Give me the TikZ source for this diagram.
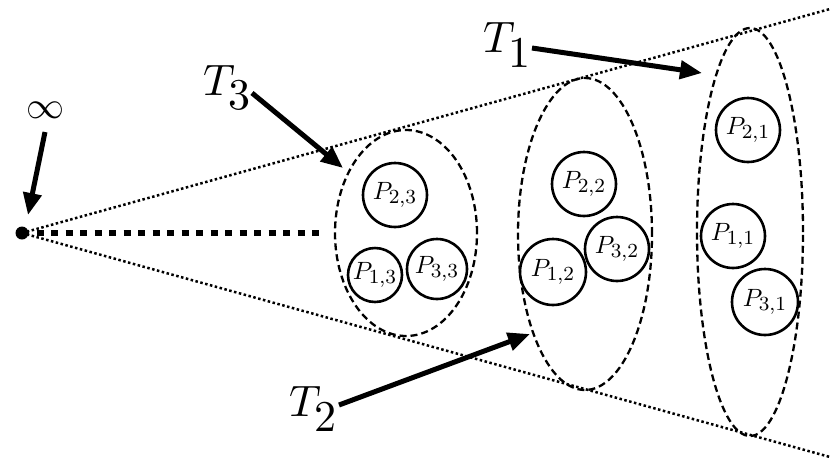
\documentclass[tikz,border=0pt]{standalone}
\usetikzlibrary{arrows.meta,shapes.geometric}
\newcommand{\pl}[2]{\scalebox{2.5}{$P_{\mbox{\footnotesize #1,#2}}$}}
\newcommand{\bl}[1]{\scalebox{4.4}{$T_{\mbox{\normalsize #1}}$}}
\begin{document}
\begin{tikzpicture}[x=1pt,y=-1pt,
  pcirc/.style={circle,draw,line width=2.6pt,inner sep=0pt},
  group/.style={ellipse,draw,line width=2.3pt,dash pattern=on 7pt off 4pt,inner sep=0pt},
  guide/.style={line width=2.5pt,dash pattern=on 2.5pt off 2.5pt},
  axis/.style={line width=6.5pt,dash pattern=on 7pt off 7.5pt},
  pointer/.style={line width=5pt,-{Triangle[length=22pt,width=18pt]}},
  lab/.style={inner sep=0pt}]
\useasboundingbox (0,0) rectangle (830,467);
% apex and guide lines
\node[circle,fill=black,inner sep=0pt,minimum size=13pt] (apex) at (22,233) {};
\coordinate (upper) at (830,9);
\coordinate (lower) at (830,457);
\coordinate (stop) at (326,233);
\draw[guide] (apex.center) -- (upper);
\draw[guide] (apex.center) -- (lower);
\draw[axis] (apex.center) -- (stop);
% groups
\node[group,minimum width=142pt,minimum height=206pt] (g3) at (406,233) {};
\node[group,minimum width=134pt,minimum height=312pt] (g2) at (585,234) {};
\node[group,minimum width=106pt,minimum height=408pt] (g1) at (750,232) {};
% players
\node[pcirc,minimum size=64pt] (p23) at (395,195) {\pl{2}{3}};
\node[pcirc,minimum size=54pt] (p13) at (375,275) {\pl{1}{3}};
\node[pcirc,minimum size=60pt] (p33) at (437,269) {\pl{3}{3}};
\node[pcirc,minimum size=64pt] (p22) at (584,184) {\pl{2}{2}};
\node[pcirc,minimum size=64pt] (p32) at (617,249) {\pl{3}{2}};
\node[pcirc,minimum size=66pt] (p12) at (553,272) {\pl{1}{2}};
\node[pcirc,minimum size=64pt] (p21) at (748,130) {\pl{2}{1}};
\node[pcirc,minimum size=64pt] (p11) at (733,236) {\pl{1}{1}};
\node[pcirc,minimum size=66pt] (p31) at (765,302) {\pl{3}{1}};
% labels
\node[lab] (inf) at (45,110) {\scalebox{3.8}{$\infty$}};
\node[lab] (t3) at (228,88) {\bl{3}};
\node[lab] (t1) at (508,45) {\bl{1}};
\node[lab] (t2) at (314,409) {\bl{2}};
% pointers
\coordinate (infs) at (45,132);  \coordinate (infe) at (28,215);
\coordinate (t3s) at (252,93);   \coordinate (t3e) at (343,168);
\coordinate (t1s) at (532,48);   \coordinate (t1e) at (702,73);
\coordinate (t2s) at (339,405);  \coordinate (t2e) at (530,334);
\draw[pointer] (infs) -- (infe);
\draw[pointer] (t3s) -- (t3e);
\draw[pointer] (t1s) -- (t1e);
\draw[pointer] (t2s) -- (t2e);
\end{tikzpicture}
\end{document}
